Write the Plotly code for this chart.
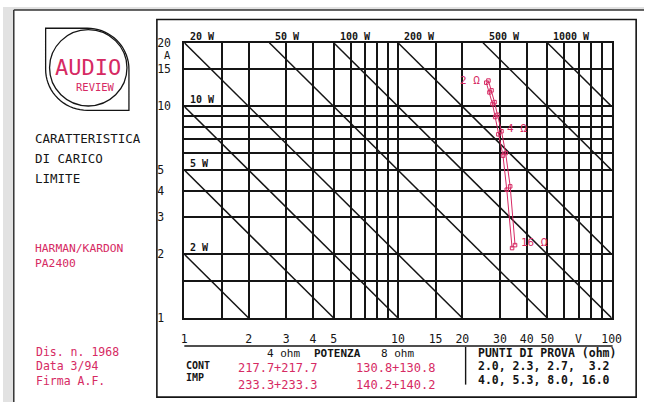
import math
import plotly.graph_objects as go

# ---------------- data ----------------
grid_v = [1, 1.5, 2, 3, 4, 5, 6, 7, 8, 9, 10, 15, 20, 30, 40, 50, 60, 70, 80, 90, 100]
grid_v_text = ["1", "", "2", "3", "4", "5", "", "", "", "", "10", "15", "20", "30", "40", "50", "", "V", "", "", "100"]
grid_a = [1, 1.5, 2, 3, 4, 5, 6, 7, 8, 9, 10, 15, 20]
grid_a_text = ["1", "", "2", "3", "4", "5", "", "", "", "", "10", "15", "20"]

power_w = [2, 5, 10, 20, 50, 100, 200, 500, 1000]
power_text = ["2 W", "5 W", "10 W", "20 W", "50 W", "100 W", "200 W", "500 W", "1000 W"]

load_ohm = [2.0, 2.3, 2.7, 3.2, 4.0, 5.3, 8.0, 16.0]
cont_v = [25.9, 26.8, 27.7, 28.5, 29.5, 31.0, 32.3, 34.2]
cont_a = [12.95, 11.65, 10.26, 8.91, 7.38, 5.85, 4.04, 2.14]
imp_v = [26.5, 27.4, 28.3, 29.2, 30.5, 31.9, 33.5, 35.3]
imp_a = [13.25, 11.91, 10.48, 9.13, 7.63, 6.02, 4.19, 2.21]
point_labels = {0: "2 Ω", 4: "4 Ω", 7: "16 Ω"}

table_rows = ["CONT", "IMP"]
power_4ohm = ["217.7+217.7", "233.3+233.3"]
power_8ohm = ["130.8+130.8", "140.2+140.2"]
test_points = ["2.0, 2.3, 2.7,  3.2", "4.0, 5.3, 8.0, 16.0"]

W, H = 654, 409
RED = "#d62a63"
INK = "#151515"
MONO = "DejaVu Sans Mono"


def X(px):
    return px / W


def Y(py):
    return 1 - py / H


fig = go.Figure()

# constant-power diagonals
for p in power_w:
    v0 = max(1.0, p / 20.0)
    v1 = min(100.0, float(p))
    fig.add_trace(go.Scatter(x=[v0, v1], y=[p / v0, p / v1], mode="lines",
                             line=dict(color=INK, width=1.5), hoverinfo="skip",
                             showlegend=False))

# measured curves
for vv, aa, nm in [(cont_v, cont_a, "CONT"), (imp_v, imp_a, "IMP")]:
    fig.add_trace(go.Scatter(x=vv, y=aa, mode="lines+markers", name=nm,
                             line=dict(color=RED, width=1),
                             marker=dict(symbol="square-open", size=3.5, color=RED,
                                         line=dict(width=1, color=RED)),
                             showlegend=False))

ann = []
# power labels
for p, t in zip(power_w, power_text):
    v0 = max(1.0, p / 20.0)
    ann.append(dict(x=math.log10(v0), y=math.log10(p / v0), xref="x", yref="y",
                    text="<b>" + t + "</b>", showarrow=False, xanchor="left",
                    yanchor="bottom", xshift=4, yshift=-1,
                    font=dict(family=MONO, size=10, color=INK)))

# point labels
for i, t in point_labels.items():
    if i == 0:
        ann.append(dict(x=math.log10(cont_v[i]), y=math.log10(cont_a[i]), xref="x", yref="y",
                        text=t, showarrow=False, xanchor="right", xshift=-4, yshift=2,
                        font=dict(family=MONO, size=11, color=RED)))
    else:
        ann.append(dict(x=math.log10(imp_v[i]), y=math.log10(imp_a[i]), xref="x", yref="y",
                        text=t, showarrow=False, xanchor="left", xshift=4, yshift=3,
                        font=dict(family=MONO, size=11, color=RED)))


def txt(px, py, s, color=INK, size=11.5, anchor="left", bold=False):
    ann.append(dict(x=X(px), y=Y(py), xref="paper", yref="paper",
                    text=("<b>" + s + "</b>") if bold else s, showarrow=False,
                    xanchor=anchor, yanchor="middle",
                    font=dict(family=MONO, size=size, color=color)))


txt(162, 50, "A", size=10.5)

# left panel
txt(87, 63, "AUDIO", color=RED, size=22, anchor="center")
txt(94, 83, "REVIEW", color=RED, size=10.5, anchor="center")
for i, s in enumerate(["CARATTERISTICA", "DI CARICO", "LIMITE"]):
    txt(31, 136 + 21 * i, s, size=12.5)
txt(31, 250, "HARMAN/KARDON", color=RED, size=11.3)
txt(31, 266, "PA2400", color=RED, size=11.3)
for i, s in enumerate(["Dis. n. 1968", "Data 3/94", "Firma A.F."]):
    txt(32, 357 + 15 * i, s, color=RED, size=11.5)

# table
txt(267, 359, "4 ohm", size=11)
txt(315, 359, "POTENZA", size=11, bold=True)
txt(384, 359, "8 ohm", size=11)
txt(185, 371, table_rows[0], size=10, bold=True)
txt(185, 384, table_rows[1], size=10, bold=True)
txt(322, 374, power_4ohm[0], color=RED, size=12, anchor="right")
txt(322, 391, power_4ohm[1], color=RED, size=12, anchor="right")
txt(443, 374, power_8ohm[0], color=RED, size=12, anchor="right")
txt(443, 391, power_8ohm[1], color=RED, size=12, anchor="right")
txt(483, 358, "PUNTI DI PROVA (ohm)", size=11.5, bold=True)
txt(483, 372, test_points[0], size=11.5, bold=True)
txt(483, 386, test_points[1], size=11.5, bold=True)

# shapes
shapes = []
shapes.append(dict(type="rect", xref="paper", yref="paper", x0=0, x1=X(11), y0=0, y1=1,
                   fillcolor="#e2e2e2", line=dict(width=0), layer="below"))
shapes.append(dict(type="rect", xref="paper", yref="paper", x0=0, x1=1, y0=Y(3), y1=1,
                   fillcolor="#e2e2e2", line=dict(width=0), layer="below"))
shapes.append(dict(type="line", xref="paper", yref="paper", x0=X(11), x1=X(11), y0=0, y1=Y(3),
                   line=dict(color="#333", width=1.5)))
shapes.append(dict(type="line", xref="paper", yref="paper", x0=X(11), x1=1, y0=Y(3), y1=Y(3),
                   line=dict(color="#333", width=1.5)))
shapes.append(dict(type="rect", xref="paper", yref="paper", x0=X(157), x1=X(646), y0=Y(404), y1=Y(13),
                   line=dict(color=INK, width=1.6)))
shapes.append(dict(type="line", xref="paper", yref="paper", x0=X(185), x1=X(622), y0=Y(351), y1=Y(351),
                   line=dict(color=INK, width=1.6)))
shapes.append(dict(type="line", xref="paper", yref="paper", x0=X(472), x1=X(472), y0=Y(352), y1=Y(391),
                   line=dict(color=INK, width=1.4)))
shapes.append(dict(type="circle", xref="paper", yref="paper", x0=X(47.5), x1=X(126.5), y0=Y(102.5), y1=Y(23.5),
                   line=dict(color=INK, width=1.3)))
cx, cy, r = 86.0, 64.5, 42.5
pts = [(cx - r, cy), (cx - r, cy - r), (cx, cy - r)]
for k in range(1, 19):
    th = math.radians(90 - 5 * k)
    pts.append((cx + r * math.cos(th), cy - r * math.sin(th)))
pts += [(cx + r, cy + r), (cx, cy + r)]
for k in range(1, 19):
    th = math.radians(270 - 5 * k)
    pts.append((cx + r * math.cos(th), cy - r * math.sin(th)))
path = "M " + " L ".join(f"{X(a):.5f},{Y(b):.5f}" for a, b in pts)
shapes.append(dict(type="path", xref="paper", yref="paper", path=path,
                   line=dict(color=INK, width=1.3)))

fig.update_layout(
    width=W, height=H, margin=dict(l=0, r=0, t=0, b=0),
    paper_bgcolor="white", plot_bgcolor="white",
    annotations=ann, shapes=shapes, showlegend=False,
    xaxis=dict(type="log", range=[0, 2], domain=[X(185), X(621)],
               tickmode="array", tickvals=grid_v, ticktext=grid_v_text,
               showgrid=True, gridcolor=INK, gridwidth=1.5, zeroline=False,
               showline=True, mirror=True, linecolor=INK, linewidth=2,
               ticks="", ticklabelstandoff=9,
               tickfont=dict(family=MONO, size=11.5, color=INK)),
    yaxis=dict(type="log", range=[0, math.log10(20)], domain=[Y(322), Y(37)],
               tickmode="array", tickvals=grid_a,
               ticktext=[t + "\u00a0" if len(t) == 1 else t for t in grid_a_text],
               showgrid=True, gridcolor=INK, gridwidth=1.5, zeroline=False,
               showline=True, mirror=True, linecolor=INK, linewidth=2,
               ticks="", ticklabelstandoff=9,
               tickfont=dict(family=MONO, size=11.5, color=INK)),
)

fig.write_html("out.html", config={"responsive": False, "displayModeBar": False},
               post_script="document.body.style.margin='0';document.body.style.overflow='hidden';")
